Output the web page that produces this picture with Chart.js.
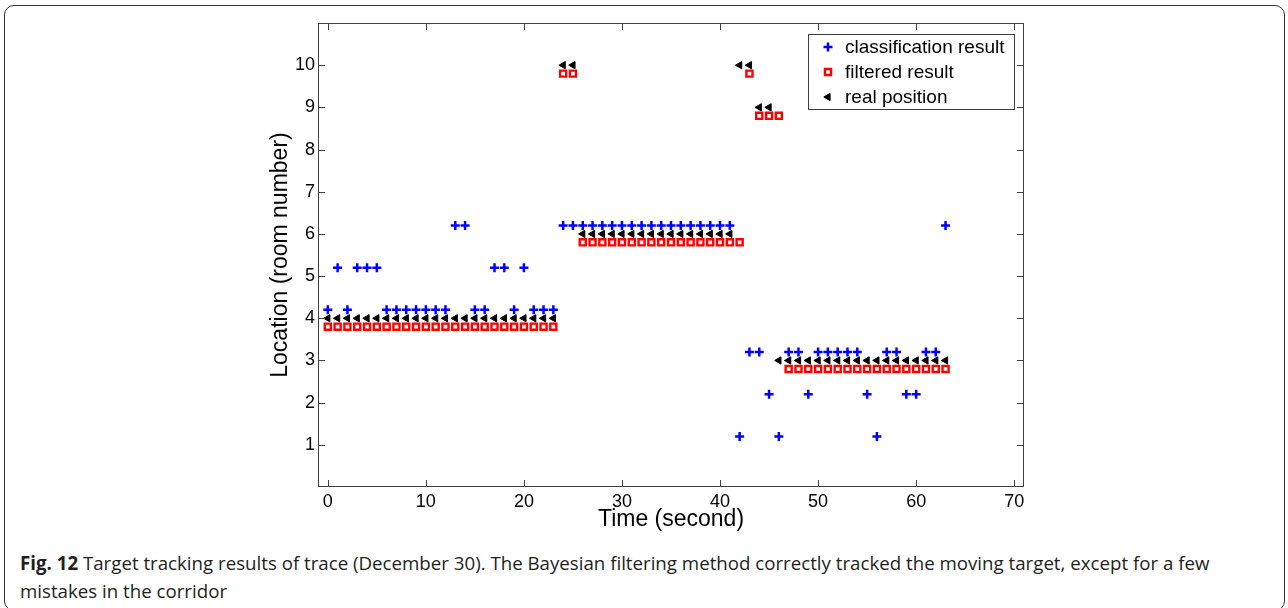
<!DOCTYPE html>
<html>
<head>
<meta charset="utf-8">
<title>Target tracking results of trace</title>
<script src="https://cdn.jsdelivr.net/npm/chart.js"></script>
<style>
  html, body { margin: 0; padding: 0; background: #fff; }
  body { width: 1288px; height: 608px; position: relative; overflow: hidden; }
  .frame {
    position: absolute; left: 4px; top: 5px; width: 1281px; height: 606px;
    border: 1.5px solid #333; border-radius: 10px; box-sizing: border-box;
  }
  #tracking { position: absolute; left: 0; top: 0; }
  .caption {
    position: absolute; left: 20px; top: 549px; width: 1260px; white-space: nowrap;
    font-family: 'Open Sans', sans-serif; font-size: 18.7px; line-height: 28px; color: #231f20;
  }
  .caption b { font-weight: 700; }
</style>
</head>
<body>
<div class="frame"></div>
<canvas id="tracking" width="1288" height="540"></canvas>
<div class="caption"><b>Fig. 12</b> Target tracking results of trace (December 30). The Bayesian filtering method correctly tracked the moving target, except for a few<br>mistakes in the corridor</div>
<script>
  const SECONDS = [
    0, 1, 2, 3, 4, 5, 6, 7, 8, 9, 10, 11, 12, 13, 14, 15,
    16, 17, 18, 19, 20, 21, 22, 23, 24, 25, 26, 27, 28, 29, 30, 31,
    32, 33, 34, 35, 36, 37, 38, 39, 40, 41, 42, 43, 44, 45, 46, 47,
    48, 49, 50, 51, 52, 53, 54, 55, 56, 57, 58, 59, 60, 61, 62, 63
  ];

  // room numbers, drawn with a small vertical offset per series
  const CLASSIFIED = [
    4.2, 5.2, 4.2, 5.2, 5.2, 5.2, 4.2, 4.2, 4.2, 4.2, 4.2, 4.2, 4.2, 6.2, 6.2, 4.2,
    4.2, 5.2, 5.2, 4.2, 5.2, 4.2, 4.2, 4.2, 6.2, 6.2, 6.2, 6.2, 6.2, 6.2, 6.2, 6.2,
    6.2, 6.2, 6.2, 6.2, 6.2, 6.2, 6.2, 6.2, 6.2, 6.2, 1.2, 3.2, 3.2, 2.2, 1.2, 3.2,
    3.2, 2.2, 3.2, 3.2, 3.2, 3.2, 3.2, 2.2, 1.2, 3.2, 3.2, 2.2, 2.2, 3.2, 3.2, 6.2
  ];
  const FILTERED = [
    3.8, 3.8, 3.8, 3.8, 3.8, 3.8, 3.8, 3.8, 3.8, 3.8, 3.8, 3.8, 3.8, 3.8, 3.8, 3.8,
    3.8, 3.8, 3.8, 3.8, 3.8, 3.8, 3.8, 3.8, 9.8, 9.8, 5.8, 5.8, 5.8, 5.8, 5.8, 5.8,
    5.8, 5.8, 5.8, 5.8, 5.8, 5.8, 5.8, 5.8, 5.8, 5.8, 5.8, 9.8, 8.8, 8.8, 8.8, 2.8,
    2.8, 2.8, 2.8, 2.8, 2.8, 2.8, 2.8, 2.8, 2.8, 2.8, 2.8, 2.8, 2.8, 2.8, 2.8, 2.8
  ];
  const REAL = [
    4, 4, 4, 4, 4, 4, 4, 4, 4, 4, 4, 4, 4, 4, 4, 4,
    4, 4, 4, 4, 4, 4, 4, 4, 10, 10, 6, 6, 6, 6, 6, 6,
    6, 6, 6, 6, 6, 6, 6, 6, 6, 6, 10, 10, 9, 9, 3, 3,
    3, 3, 3, 3, 3, 3, 3, 3, 3, 3, 3, 3, 3, 3, 3, 3
  ];

  const SERIES_NAMES = ['classification result', 'filtered result', 'real position'];
  const X_TICKS = [0, 10, 20, 30, 40, 50, 60, 70];
  const Y_TICKS = [1, 2, 3, 4, 5, 6, 7, 8, 9, 10];
  const X_LIMITS = [-1, 71];
  const Y_LIMITS = [0, 11];

  const FONT = "'Liberation Sans', Arial, Helvetica, sans-serif";
  const AXIS_COLOR = '#404040';
  const TICK_LEN = 7;

  Chart.defaults.font.family = FONT;

  const MARKERS = [
    { pointStyle: 'cross', radius: 4.5, borderWidth: 2.5, rotation: 0, borderColor: '#0000ff', backgroundColor: '#0000ff' },
    { pointStyle: 'rect', radius: 4.3, borderWidth: 2.4, rotation: 0, borderColor: '#ff0000', backgroundColor: '#ffffff' },
    { pointStyle: 'triangle', radius: 4.2, borderWidth: 1, rotation: -90, borderColor: '#000000', backgroundColor: '#000000' }
  ];

  function toPoints(values) {
    return SECONDS.map((t, i) => ({ x: t, y: values[i] }));
  }

  function series(idx, values, order) {
    const m = MARKERS[idx];
    return {
      label: SERIES_NAMES[idx],
      data: toPoints(values),
      showLine: false,
      order: order,
      pointStyle: m.pointStyle,
      pointRadius: m.radius,
      pointHoverRadius: m.radius,
      pointBorderWidth: m.borderWidth,
      pointHoverBorderWidth: m.borderWidth,
      pointRotation: m.rotation,
      pointBorderColor: m.borderColor,
      pointBackgroundColor: m.backgroundColor
    };
  }

  // box around the plot with inward ticks on all four sides
  const axesBox = {
    id: 'axesBox',
    afterDatasetsDraw(chart) {
      const { ctx, chartArea: a, scales: { x, y } } = chart;
      ctx.save();
      ctx.strokeStyle = AXIS_COLOR;
      ctx.lineWidth = 1;
      ctx.strokeRect(a.left + 0.5, a.top + 0.5, a.right - a.left - 1, a.bottom - a.top - 1);
      ctx.beginPath();
      X_TICKS.forEach((v) => {
        const px = Math.round(x.getPixelForValue(v)) + 0.5;
        ctx.moveTo(px, a.bottom);
        ctx.lineTo(px, a.bottom - TICK_LEN);
        ctx.moveTo(px, a.top);
        ctx.lineTo(px, a.top + TICK_LEN);
      });
      Y_TICKS.forEach((v) => {
        const py = Math.round(y.getPixelForValue(v)) + 0.5;
        ctx.moveTo(a.left, py);
        ctx.lineTo(a.left + TICK_LEN, py);
        ctx.moveTo(a.right, py);
        ctx.lineTo(a.right - TICK_LEN, py);
      });
      ctx.stroke();
      ctx.restore();
    }
  };

  // legend in a bordered box at the top right of the plot
  const boxedLegend = {
    id: 'boxedLegend',
    afterDraw(chart) {
      const { ctx, chartArea: a } = chart;
      const w = 206, h = 75, rowH = 25;
      const left = a.right - 10 - w;
      const top = a.top + 11;
      ctx.save();
      ctx.fillStyle = '#ffffff';
      ctx.fillRect(left, top, w, h);
      ctx.strokeStyle = AXIS_COLOR;
      ctx.lineWidth = 1;
      ctx.strokeRect(left + 0.5, top + 0.5, w, h);
      ctx.font = '19px ' + FONT;
      ctx.textBaseline = 'middle';
      chart.data.datasets.forEach((ds, i) => {
        const m = MARKERS[i];
        const cy = top + 13 + i * rowH;
        ctx.fillStyle = m.backgroundColor;
        ctx.strokeStyle = m.borderColor;
        ctx.lineWidth = m.borderWidth;
        Chart.helpers.drawPoint(ctx, {
          pointStyle: m.pointStyle,
          rotation: m.rotation,
          radius: m.radius,
          borderWidth: m.borderWidth
        }, left + 20, cy);
        ctx.fillStyle = '#000000';
        ctx.fillText(ds.label, left + 37, cy + 1);
      });
      ctx.restore();
    }
  };

  new Chart(document.getElementById('tracking'), {
    type: 'scatter',
    data: {
      datasets: [
        series(0, CLASSIFIED, 3),
        series(1, FILTERED, 2),
        series(2, REAL, 1)
      ]
    },
    options: {
      responsive: false,
      animation: false,
      layout: { padding: { left: 267, right: 264, top: 23, bottom: 7 } },
      plugins: {
        legend: { display: false },
        tooltip: { enabled: false }
      },
      scales: {
        x: {
          type: 'linear',
          min: X_LIMITS[0],
          max: X_LIMITS[1],
          afterBuildTicks: (s) => { s.ticks = X_TICKS.map((v) => ({ value: v })); },
          afterFit: (s) => { s.height = 46; },
          grid: { display: false, drawTicks: false },
          border: { display: false },
          ticks: {
            color: '#000000',
            font: { size: 18 },
            padding: 4,
            maxRotation: 0,
            autoSkip: false
          },
          title: {
            display: true,
            text: 'Time (second)',
            color: '#000000',
            font: { size: 23 },
            padding: 0
          }
        },
        y: {
          type: 'linear',
          min: Y_LIMITS[0],
          max: Y_LIMITS[1],
          afterBuildTicks: (s) => { s.ticks = Y_TICKS.map((v) => ({ value: v })); },
          afterFit: (s) => { s.width = 51; },
          grid: { display: false, drawTicks: false },
          border: { display: false },
          ticks: {
            color: '#000000',
            font: { size: 18 },
            padding: 3,
            autoSkip: false
          },
          title: {
            display: true,
            text: 'Location (room number)',
            color: '#000000',
            font: { size: 23 },
            padding: 0
          }
        }
      }
    },
    plugins: [axesBox, boxedLegend]
  });
</script>
</body>
</html>
